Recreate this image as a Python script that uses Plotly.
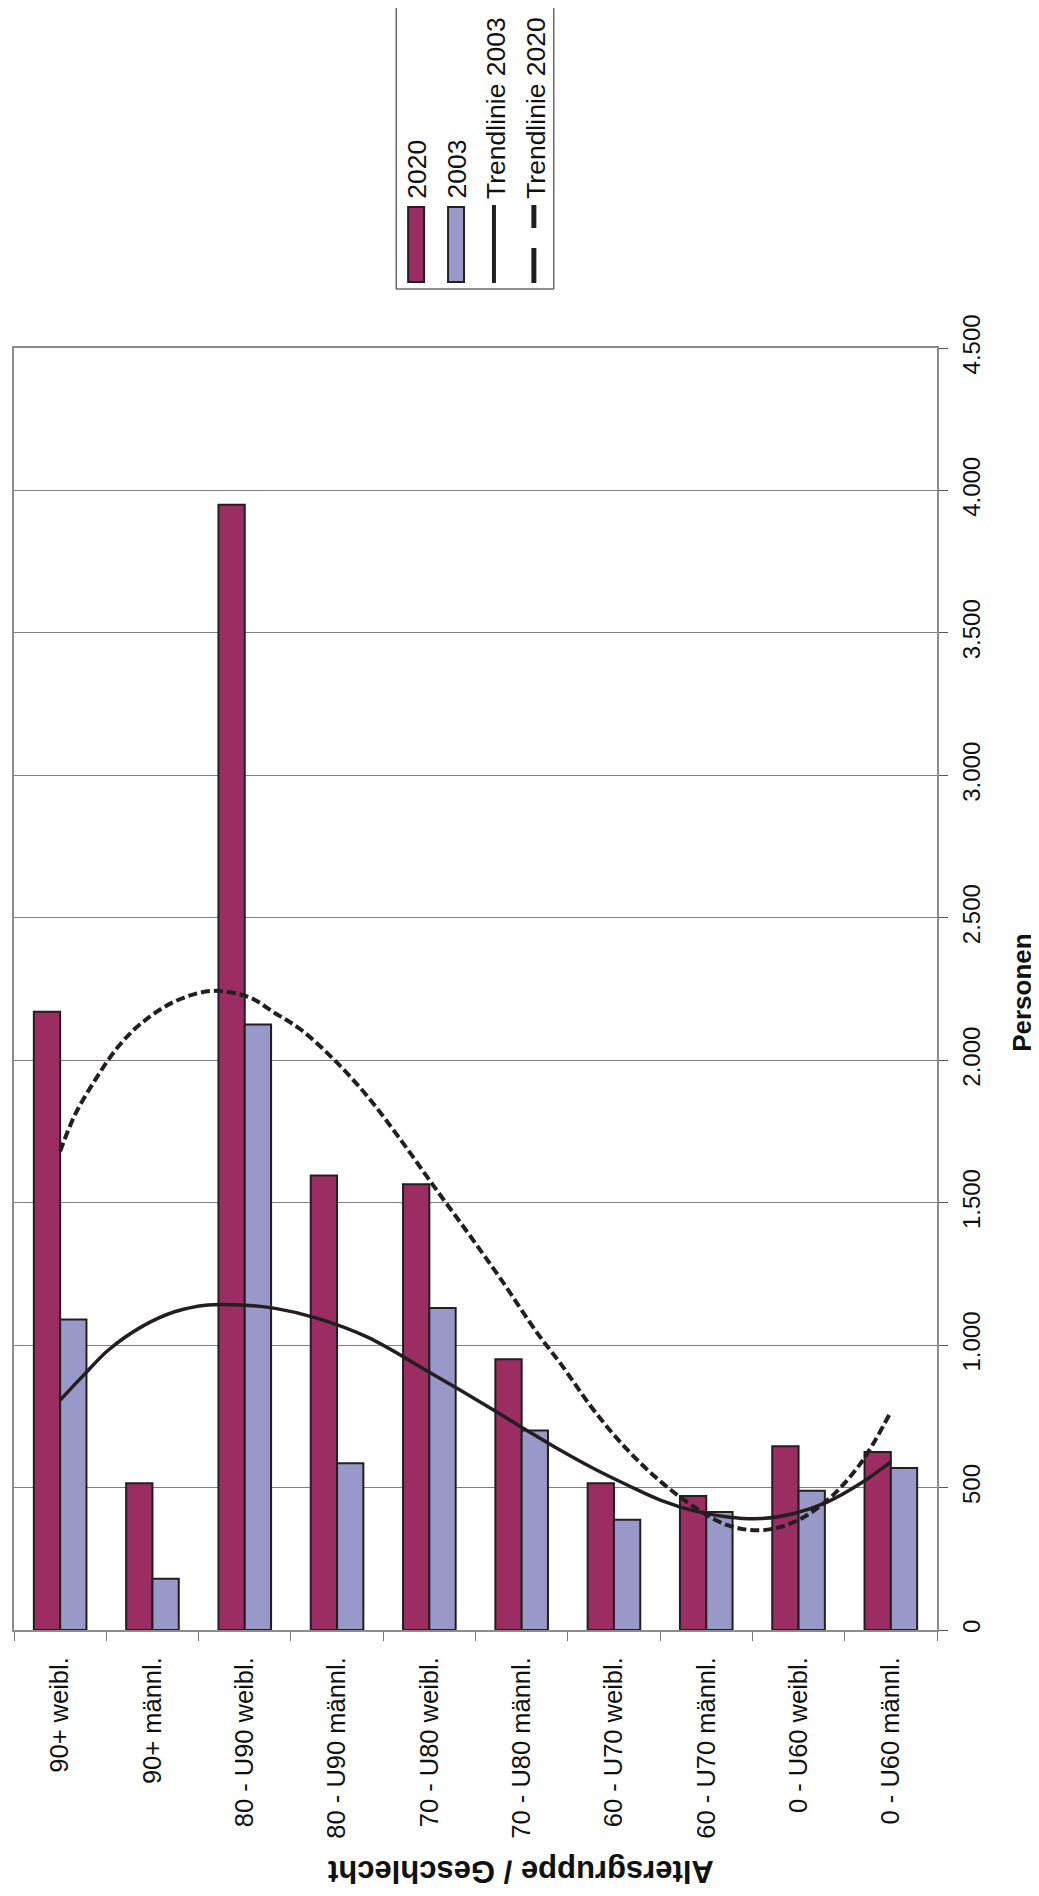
import plotly.graph_objects as go

categories = ["90+ weibl.", "90+ männl.", "80 - U90 weibl.", "80 - U90 männl.",
              "70 - U80 weibl.", "70 - U80 männl.", "60 - U70 weibl.", "60 - U70 männl.",
              "0 - U60 weibl.", "0 - U60 männl."]
v2020 = [2170, 515, 3950, 1595, 1565, 950, 515, 470, 645, 625]
v2003 = [1090, 180, 2125, 585, 1130, 700, 387, 414, 489, 569]

# trend lines (x = category position, 1 = first category)
trend2003_x = [1, 1.27, 1.52, 1.88, 2.24, 2.6, 2.96, 3.33, 3.79, 4.33, 5, 5.5, 6, 6.42,
               6.78, 7.15, 7.51, 7.87, 8.23, 8.59, 8.95, 9.31, 9.67, 10]
trend2003 = [807, 900, 982, 1064, 1117, 1141, 1141, 1129, 1094, 1028, 905, 810, 712, 631,
             567, 508, 455, 418, 397, 391, 409, 449, 514, 590]
trend2020_x = [1, 1.16, 1.38, 1.63, 1.88, 2.24, 2.64, 3.04, 3.33, 3.61, 3.97, 4.33, 4.69, 5.05,
               5.42, 5.78, 6.17, 6.42, 6.78, 7.15, 7.51, 7.87, 8.23, 8.59, 8.95, 9.31, 9.67, 10]
trend2020 = [1680, 1808, 1931, 2048, 2130, 2206, 2243, 2222, 2165, 2107, 2001, 1873, 1720, 1557,
             1393, 1229, 1042, 936, 772, 631, 520, 432, 368, 350, 379, 455, 584, 766]

y_ticks = [0, 500, 1000, 1500, 2000, 2500, 3000, 3500, 4000, 4500]

PAGE_W, PAGE_H = 1039, 1896
OFF = 8  # default body margin of the html page
W, H = PAGE_W - OFF, PAGE_H - OFF
L, R, T, B = 12, 937, 348, 1630  # plot area in page pixels
FONT = "Liberation Sans, Arial, sans-serif"
C2020 = "#9B2D62"
C2003 = "#9898C9"
EDGE = "#231F20"


def px(x):
    return (x - L) / (R - L)


def py(y):
    return (B - y) / (B - T)


fig = go.Figure()
fig.add_trace(go.Bar(x=categories, y=v2020, name="2020", marker=dict(color=C2020, line=dict(color=EDGE, width=2))))
fig.add_trace(go.Bar(x=categories, y=v2003, name="2003", marker=dict(color=C2003, line=dict(color=EDGE, width=2))))
fig.add_trace(go.Scatter(x=trend2003_x, y=trend2003, xaxis="x2", mode="lines",
                         line=dict(color=EDGE, width=3.5, shape="spline"), name="Trendlinie 2003"))
fig.add_trace(go.Scatter(x=trend2020_x, y=trend2020, xaxis="x2", mode="lines",
                         line=dict(color=EDGE, width=4, dash="9px,4px", shape="spline"), name="Trendlinie 2020"))

fig.update_layout(
    width=W, height=H,
    margin=dict(l=L - OFF, r=PAGE_W - R, t=T - OFF, b=PAGE_H - B, pad=0),
    paper_bgcolor="white", plot_bgcolor="white",
    showlegend=False,
    separators=",.",
    barmode="group", bargap=0.43, bargroupgap=0,
    font=dict(family=FONT, color="#111111", size=24),
    xaxis=dict(type="category", tickangle=-90, tickson="boundaries", ticks="outside", ticklen=9,
               tickcolor="#777777", showline=True, linecolor="#8c8c8c", linewidth=2, mirror=True,
               showgrid=False, tickfont=dict(size=25.5), ticklabelstandoff=15),
    xaxis2=dict(overlaying="x", range=[0.5, 10.5], visible=False),
    yaxis=dict(side="right", range=[0, 4500], tickvals=y_ticks, tickformat=",d", tickangle=-90,
               ticks="outside", ticklen=9, tickcolor="#555555", showline=True, linecolor="#8c8c8c",
               linewidth=2, mirror=True, showgrid=True, gridcolor="#7f7f7f", gridwidth=1,
               zeroline=False, tickfont=dict(size=24), ticklabelstandoff=3),
)

ann = []
ann.append(dict(x=px(1022), y=py(992), xref="paper", yref="paper", text="<b>Personen</b>", textangle=-90,
                showarrow=False, xanchor="center", yanchor="middle", font=dict(size=26)))
ann.append(dict(x=px(520), y=py(1872), xref="paper", yref="paper", text="<b>Altersgruppe / Geschlecht</b>",
                textangle=180, showarrow=False, xanchor="center", yanchor="middle", font=dict(size=31)))
legend_items = [("2020", 415), ("2003", 455), ("Trendlinie 2003", 495), ("Trendlinie 2020", 535)]
for txt, cx in legend_items:
    ann.append(dict(x=px(cx), y=py(201), xref="paper", yref="paper", text=txt, textangle=-90,
                    showarrow=False, xanchor="center", yanchor="bottom", font=dict(size=26.5)))
fig.update_layout(annotations=ann)

shapes = []
shapes.append(dict(type="rect", xref="paper", yref="paper", x0=px(395), x1=px(553), y0=py(5), y1=py(289),
                   line=dict(color="#222222", width=1), fillcolor="white", layer="below"))
shapes.append(dict(type="rect", xref="paper", yref="paper", x0=px(407), x1=px(423), y0=py(207), y1=py(282),
                   line=dict(color=EDGE, width=2), fillcolor=C2020))
shapes.append(dict(type="rect", xref="paper", yref="paper", x0=px(447), x1=px(463), y0=py(207), y1=py(282),
                   line=dict(color=EDGE, width=2), fillcolor=C2003))
shapes.append(dict(type="line", xref="paper", yref="paper", x0=px(493), x1=px(493), y0=py(205), y1=py(283),
                   line=dict(color=EDGE, width=4)))
shapes.append(dict(type="line", xref="paper", yref="paper", x0=px(533), x1=px(533), y0=py(205), y1=py(228),
                   line=dict(color=EDGE, width=5)))
shapes.append(dict(type="line", xref="paper", yref="paper", x0=px(533), x1=px(533), y0=py(248), y1=py(283),
                   line=dict(color=EDGE, width=5)))
fig.update_layout(shapes=shapes)

fig.write_html("out.html")
